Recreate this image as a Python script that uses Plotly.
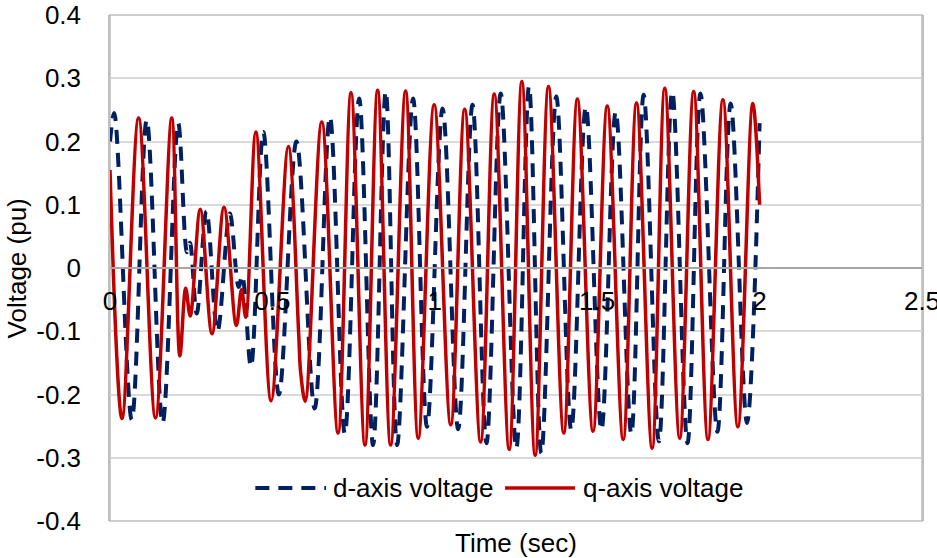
import plotly.graph_objects as go

# q-axis voltage (solid red) - turning points
q_time = [0.000, 0.037, 0.088, 0.140, 0.190, 0.215, 0.233, 0.247, 0.278, 0.314,
          0.351, 0.389, 0.405, 0.418, 0.449, 0.496, 0.549, 0.581, 0.587, 0.601,
          0.652, 0.702, 0.742, 0.785, 0.824, 0.864, 0.910, 0.949, 0.998, 1.049,
          1.092, 1.141, 1.183, 1.229, 1.268, 1.309, 1.350, 1.397, 1.439, 1.487,
          1.531, 1.580, 1.621, 1.669, 1.708, 1.754, 1.797, 1.841, 1.887, 1.933,
          1.979, 2.000]
q_volt = [0.155, -0.238, 0.237, -0.237, 0.237, -0.139, -0.032, -0.076, 0.093, -0.104,
          0.096, -0.091, -0.034, -0.078, 0.215, -0.210, 0.192, -0.105, -0.165, -0.211,
          0.231, -0.261, 0.277, -0.280, 0.281, -0.280, 0.280, -0.269, 0.258, -0.248,
          0.251, -0.275, 0.275, -0.287, 0.295, -0.296, 0.287, -0.261, 0.267, -0.258,
          0.256, -0.271, 0.261, -0.285, 0.284, -0.269, 0.279, -0.271, 0.266, -0.251,
          0.260, 0.100]

# d-axis voltage (dashed navy) - turning points
d_time = [0.000, 0.013, 0.067, 0.113, 0.162, 0.210, 0.237, 0.246, 0.267, 0.297,
          0.331, 0.369, 0.396, 0.407, 0.434, 0.472, 0.520, 0.574, 0.630, 0.677,
          0.723, 0.767, 0.810, 0.849, 0.884, 0.933, 0.976, 1.024, 1.072, 1.116,
          1.159, 1.203, 1.251, 1.290, 1.328, 1.374, 1.420, 1.465, 1.513, 1.557,
          1.605, 1.643, 1.690, 1.731, 1.778, 1.818, 1.870, 1.911, 1.961, 2.000]
d_volt = [0.200, 0.245, -0.240, 0.234, -0.245, 0.229, 0.025, 0.040, -0.072, 0.090,
          -0.100, 0.086, -0.030, -0.012, -0.156, 0.215, -0.200, 0.200, -0.222, 0.239,
          -0.262, 0.268, -0.280, 0.279, -0.280, 0.268, -0.251, 0.252, -0.255, 0.258,
          -0.277, 0.276, -0.285, 0.287, -0.293, 0.271, -0.256, 0.255, -0.256, 0.247,
          -0.262, 0.274, -0.274, 0.279, -0.277, 0.276, -0.259, 0.260, -0.245, 0.229]

series_names = ["d-axis voltage", "q-axis voltage"]
x_ticks = [0, 0.5, 1, 1.5, 2, 2.5]
x_labels = ["0", "0.5", "1", "1.5", "2", "2.5"]
y_ticks = [-0.4, -0.3, -0.2, -0.1, 0, 0.1, 0.2, 0.3, 0.4]
y_labels = ["-0.4", "-0.3", "-0.2", "-0.1", "0", "0.1", "0.2", "0.3", "0.4"]

FONT = "Liberation Sans, Arial, sans-serif"
FS = 26
NAVY = "#002060"
RED = "#C00000"
NAVY_DASH = "14px,9px"

fig = go.Figure()
fig.add_trace(go.Scatter(
    x=d_time, y=d_volt, mode="lines", name=series_names[0],
    line=dict(color=NAVY, width=4, dash=NAVY_DASH, shape="spline", smoothing=1.0),
))
fig.add_trace(go.Scatter(
    x=q_time, y=q_volt, mode="lines", name=series_names[1],
    line=dict(color=RED, width=3.5, shape="spline", smoothing=1.0),
))

# legend drawn as in the original (long samples), in paper coordinates
leg_y = 0.065
legend_shapes = [
    dict(type="line", xref="paper", yref="paper", x0=0.179, x1=0.266, y0=leg_y, y1=leg_y,
         line=dict(color=NAVY, width=4, dash=NAVY_DASH)),
    dict(type="line", xref="paper", yref="paper", x0=0.4865, x1=0.5727, y0=leg_y, y1=leg_y,
         line=dict(color=RED, width=3.5)),
]
legend_texts = [
    dict(text=series_names[0], xref="paper", yref="paper", x=0.272, y=leg_y,
         xanchor="left", yanchor="middle", showarrow=False, font=dict(size=FS)),
    dict(text=series_names[1], xref="paper", yref="paper", x=0.580, y=leg_y,
         xanchor="left", yanchor="middle", showarrow=False, font=dict(size=FS)),
]

fig.update_layout(
    width=937, height=558,
    margin=dict(l=110, r=15, t=15, b=37),
    paper_bgcolor="white", plot_bgcolor="white",
    font=dict(family=FONT, size=FS, color="#000000"),
    showlegend=False,
    xaxis=dict(range=[0, 2.5], tickvals=x_ticks, ticktext=x_labels,
               anchor="free", position=0.5, showline=True, linecolor="#A6A6A6",
               linewidth=1.5, showgrid=False, zeroline=False, ticks="",
               ticklabelstandoff=10, tickfont=dict(size=FS), automargin=False,
               ticklabeloverflow="allow"),
    yaxis=dict(range=[-0.4, 0.4], tickvals=y_ticks, ticktext=y_labels,
               showline=True, linecolor="#BFBFBF", linewidth=1.5, mirror=True,
               showgrid=True, gridcolor="#D9D9D9", gridwidth=1.5, zeroline=False,
               ticks="", ticklabelstandoff=22, tickfont=dict(size=FS), automargin=False,
               ticklabeloverflow="allow"),
    shapes=[dict(type="rect", xref="paper", yref="paper", x0=0, x1=1, y0=0, y1=1,
                 line=dict(color="#BFBFBF", width=1.5), layer="below")] + legend_shapes,
    annotations=[
        dict(text="Time (sec)", xref="paper", yref="paper", x=0.5, y=-0.044,
             xanchor="center", yanchor="middle", showarrow=False, font=dict(size=FS)),
        dict(text="Voltage (pu)", xref="paper", yref="paper", x=-0.114, y=0.5,
             xanchor="center", yanchor="middle", textangle=-90, showarrow=False,
             font=dict(size=FS)),
    ] + legend_texts,
)

fig.write_html("out.html")
